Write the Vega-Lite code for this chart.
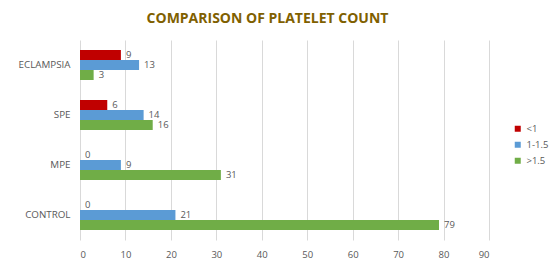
{
  "$schema": "https://vega.github.io/schema/vega-lite/v6.json",
  "width": 409,
  "height": 200,
  "autosize": {"type": "none"},
  "padding": {"left": 80, "top": 40, "right": 68, "bottom": 24},
  "background": "white",
  "config": {"view": {"stroke": null}},
  "title": {
    "text": "COMPARISON OF PLATELET COUNT",
    "font": "Open Sans",
    "fontSize": 14,
    "fontWeight": "bold",
    "color": "#7f6000",
    "anchor": "middle",
    "dx": -17,
    "offset": 14
  },
  "data": {
    "values": [
      {"group": "ECLAMPSIA", "series": "<1", "value": 9},
      {"group": "ECLAMPSIA", "series": "1-1.5", "value": 13},
      {"group": "ECLAMPSIA", "series": ">1.5", "value": 3},
      {"group": "SPE", "series": "<1", "value": 6},
      {"group": "SPE", "series": "1-1.5", "value": 14},
      {"group": "SPE", "series": ">1.5", "value": 16},
      {"group": "MPE", "series": "<1", "value": 0},
      {"group": "MPE", "series": "1-1.5", "value": 9},
      {"group": "MPE", "series": ">1.5", "value": 31},
      {"group": "CONTROL", "series": "<1", "value": 0},
      {"group": "CONTROL", "series": "1-1.5", "value": 21},
      {"group": "CONTROL", "series": ">1.5", "value": 79}
    ]
  },
  "encoding": {
    "y": {
      "field": "group",
      "type": "nominal",
      "sort": ["ECLAMPSIA", "SPE", "MPE", "CONTROL"],
      "scale": {"paddingInner": 0.4, "paddingOuter": 0.2},
      "axis": {
        "title": null,
        "domain": false,
        "ticks": false,
        "labelPadding": 10,
        "labelFont": "Open Sans",
        "labelFontSize": 9.8,
        "labelColor": "#595959"
      }
    },
    "yOffset": {
      "field": "series",
      "type": "nominal",
      "sort": ["<1", "1-1.5", ">1.5"]
    },
    "x": {
      "field": "value",
      "type": "quantitative",
      "scale": {"domain": [0, 90], "nice": false},
      "axis": {
        "title": null,
        "values": [0, 10, 20, 30, 40, 50, 60, 70, 80, 90],
        "domain": false,
        "ticks": false,
        "grid": true,
        "gridColor": "#d9d9d9",
        "labelPadding": 9,
        "labelFont": "Open Sans",
        "labelFontSize": 9.5,
        "labelColor": "#595959"
      }
    }
  },
  "layer": [
    {
      "mark": {"type": "bar"},
      "encoding": {
        "color": {
          "field": "series",
          "type": "nominal",
          "sort": ["<1", "1-1.5", ">1.5"],
          "scale": {"domain": ["<1", "1-1.5", ">1.5"], "range": ["#c00000", "#5b9bd5", "#70ad47"]},
          "legend": {
            "title": null,
            "orient": "none",
            "legendX": 433,
            "legendY": 84,
            "symbolType": "square",
            "symbolSize": 36,
            "symbolStrokeWidth": 0,
            "labelFont": "Open Sans",
            "labelFontSize": 9.5,
            "labelColor": "#595959",
            "rowPadding": 5
          }
        }
      }
    },
    {
      "mark": {"type": "text", "align": "left", "dx": 5, "font": "Open Sans", "fontSize": 9.5, "color": "#595959"},
      "encoding": {"text": {"field": "value", "type": "quantitative"}}
    }
  ]
}
